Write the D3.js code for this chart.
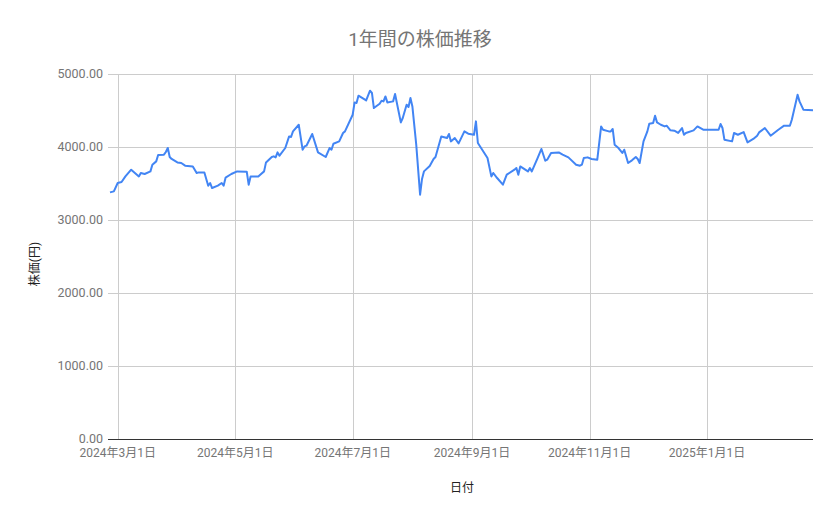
<!DOCTYPE html>
<html>
<head>
<meta charset="utf-8">
<script src="https://cdn.jsdelivr.net/npm/d3@7"></script>
<style>
  body { margin: 0; background: #fff; }
  svg text { font-family: Roboto, "Noto Sans CJK JP", sans-serif; }
</style>
</head>
<body>
<div id="chart"></div>
<script>
// 日付（グラフから読み取った折れ点）
var dates = [
  "2024-02-26","2024-02-28","2024-03-01","2024-03-03","2024-03-05","2024-03-08","2024-03-12","2024-03-13",
  "2024-03-15","2024-03-18","2024-03-19","2024-03-21","2024-03-22","2024-03-25","2024-03-26","2024-03-27",
  "2024-03-28","2024-03-29","2024-04-01","2024-04-03","2024-04-05","2024-04-09","2024-04-11","2024-04-12",
  "2024-04-15","2024-04-17","2024-04-18","2024-04-19","2024-04-22","2024-04-24","2024-04-25","2024-04-26",
  "2024-04-29","2024-05-02","2024-05-07","2024-05-08","2024-05-09","2024-05-13","2024-05-14","2024-05-16",
  "2024-05-17","2024-05-20","2024-05-21","2024-05-22","2024-05-23","2024-05-24","2024-05-27","2024-05-29",
  "2024-05-30","2024-05-31","2024-06-03","2024-06-05","2024-06-06","2024-06-07","2024-06-10","2024-06-13",
  "2024-06-17","2024-06-19","2024-06-20","2024-06-21","2024-06-24","2024-06-26","2024-06-27","2024-07-01",
  "2024-07-02","2024-07-03","2024-07-04","2024-07-08","2024-07-10","2024-07-11","2024-07-12","2024-07-15",
  "2024-07-16","2024-07-17","2024-07-18","2024-07-19","2024-07-22","2024-07-23","2024-07-26","2024-07-27",
  "2024-07-29","2024-07-30","2024-07-31","2024-08-01","2024-08-03","2024-08-05","2024-08-06","2024-08-07",
  "2024-08-10","2024-08-12","2024-08-13","2024-08-16","2024-08-19","2024-08-20","2024-08-21","2024-08-23",
  "2024-08-25","2024-08-28","2024-08-30","2024-09-02","2024-09-03","2024-09-04","2024-09-06","2024-09-09",
  "2024-09-11","2024-09-12","2024-09-14","2024-09-17","2024-09-19","2024-09-23","2024-09-24","2024-09-25",
  "2024-09-26","2024-09-30","2024-10-01","2024-10-02","2024-10-05","2024-10-07","2024-10-09","2024-10-10",
  "2024-10-12","2024-10-16","2024-10-18","2024-10-21","2024-10-25","2024-10-27","2024-10-28","2024-10-29",
  "2024-10-31","2024-11-02","2024-11-05","2024-11-07","2024-11-08","2024-11-11","2024-11-12","2024-11-13",
  "2024-11-14","2024-11-16","2024-11-18","2024-11-19","2024-11-21","2024-11-23","2024-11-25","2024-11-26",
  "2024-11-27","2024-11-29","2024-12-01","2024-12-02","2024-12-04","2024-12-05","2024-12-06","2024-12-08",
  "2024-12-10","2024-12-11","2024-12-13","2024-12-15","2024-12-17","2024-12-19","2024-12-20","2024-12-21",
  "2024-12-25","2024-12-27","2024-12-30","2025-01-07","2025-01-08","2025-01-09","2025-01-10","2025-01-14",
  "2025-01-15","2025-01-17","2025-01-20","2025-01-22","2025-01-25","2025-01-27","2025-01-28","2025-01-31",
  "2025-02-03","2025-02-07","2025-02-10","2025-02-13","2025-02-14","2025-02-17","2025-02-18","2025-02-20",
  "2025-02-25"
];

// 株価（円）
var prices = [
  3378,3392,3507,3521,3597,3689,3597,3644,
  3630,3666,3758,3803,3890,3895,3932,3986,
  3863,3836,3789,3781,3744,3734,3644,3652,
  3652,3470,3507,3438,3470,3507,3470,3580,
  3630,3666,3662,3484,3597,3597,3621,3666,
  3789,3863,3872,3858,3926,3881,3986,4145,
  4137,4214,4305,3963,4008,4018,4178,3926,
  3863,3986,3963,4045,4077,4192,4214,4442,
  4611,4603,4703,4638,4771,4740,4534,4593,
  4634,4625,4693,4611,4625,4726,4337,4397,
  4580,4548,4671,4556,4032,3347,3562,3666,
  3740,3836,3863,4145,4123,4178,4077,4123,
  4050,4214,4182,4168,4351,4055,3973,3849,
  3597,3644,3575,3484,3621,3689,3712,3621,
  3734,3666,3712,3666,3849,3973,3812,3826,
  3918,3926,3895,3858,3758,3744,3758,3849,
  3858,3836,3826,4282,4237,4214,4214,4247,
  4032,3986,3918,3963,3781,3817,3863,3836,
  3781,4077,4214,4319,4329,4429,4337,4305,
  4282,4292,4228,4223,4192,4260,4168,4192,
  4228,4282,4237,4237,4315,4260,4100,4077,
  4192,4168,4205,4063,4110,4155,4200,4260,
  4155,4237,4292,4292,4374,4716,4625,4511,
  4502
];

// 目盛り
var yTicks = [0, 1000, 2000, 3000, 4000, 5000];
var xTicks = ["2024-03-01","2024-05-01","2024-07-01","2024-09-01","2024-11-01","2025-01-01"];

var chartTitle = "1年間の株価推移";
var xTitle = "日付";
var yTitle = "株価(円)";

var width = 839, height = 519;
var margin = {left: 110, top: 74, right: 26, bottom: 80};

var parseDate = d3.timeParse("%Y-%m-%d");
var data = dates.map(function(d, i) {
    return {date: parseDate(d), value: prices[i]};
});

var svg = d3.select("#chart")
    .append("svg")
    .attr("width", width)
    .attr("height", height);

var xScale = d3.scaleTime()
    .domain(d3.extent(data, function(d) { return d.date; }))
    .range([margin.left, width - margin.right]);

var yScale = d3.scaleLinear()
    .domain([0, 5000])
    .range([height - margin.bottom, margin.top]);

// 横のグリッド線
svg.append("g")
    .selectAll("line")
    .data(yTicks.filter(function(t) { return t > 0; }))
    .enter()
    .append("line")
    .attr("x1", margin.left - 2)
    .attr("x2", width - margin.right)
    .attr("y1", function(d) { return yScale(d) + 0.5; })
    .attr("y2", function(d) { return yScale(d) + 0.5; })
    .attr("stroke", "#cccccc")
    .attr("stroke-width", 1);

// 縦のグリッド線
svg.append("g")
    .selectAll("line")
    .data(xTicks.map(parseDate))
    .enter()
    .append("line")
    .attr("x1", function(d) { return Math.round(xScale(d)) + 0.5; })
    .attr("x2", function(d) { return Math.round(xScale(d)) + 0.5; })
    .attr("y1", margin.top)
    .attr("y2", yScale(0))
    .attr("stroke", "#cccccc")
    .attr("stroke-width", 1);

// ベースライン
svg.append("line")
    .attr("x1", margin.left - 2)
    .attr("x2", width - margin.right)
    .attr("y1", yScale(0) + 0.5)
    .attr("y2", yScale(0) + 0.5)
    .attr("stroke", "#333333")
    .attr("stroke-width", 1);

// Y軸ラベル
svg.append("g")
    .selectAll("text")
    .data(yTicks)
    .enter()
    .append("text")
    .attr("x", margin.left - 7)
    .attr("y", function(d) { return yScale(d); })
    .attr("dy", "0.35em")
    .attr("text-anchor", "end")
    .attr("font-size", 12.5)
    .attr("fill", "#757575")
    .text(function(d) { return d3.format(".2f")(d); });

// X軸ラベル
var formatJa = function(d) {
    return d.getFullYear() + "年" + (d.getMonth() + 1) + "月" + d.getDate() + "日";
};
svg.append("g")
    .selectAll("text")
    .data(xTicks.map(parseDate))
    .enter()
    .append("text")
    .attr("x", function(d) { return xScale(d); })
    .attr("y", yScale(0) + 18)
    .attr("text-anchor", "middle")
    .attr("font-size", 12)
    .attr("fill", "#757575")
    .text(formatJa);

// 折れ線
var line = d3.line()
    .x(function(d) { return xScale(d.date); })
    .y(function(d) { return yScale(d.value); });

svg.append("path")
    .datum(data)
    .attr("fill", "none")
    .attr("stroke", "#4285f4")
    .attr("stroke-width", 2)
    .attr("stroke-linejoin", "round")
    .attr("d", line);

// タイトルと軸タイトル
svg.append("text")
    .attr("x", 420)
    .attr("y", 46)
    .attr("text-anchor", "middle")
    .attr("font-size", 19)
    .attr("fill", "#757575")
    .text(chartTitle);

svg.append("text")
    .attr("x", 462)
    .attr("y", 492)
    .attr("text-anchor", "middle")
    .attr("font-size", 12)
    .attr("fill", "#222222")
    .text(xTitle);

svg.append("text")
    .attr("transform", "translate(39,264) rotate(-90)")
    .attr("text-anchor", "middle")
    .attr("font-size", 12)
    .attr("fill", "#222222")
    .text(yTitle);
</script>
</body>
</html>
